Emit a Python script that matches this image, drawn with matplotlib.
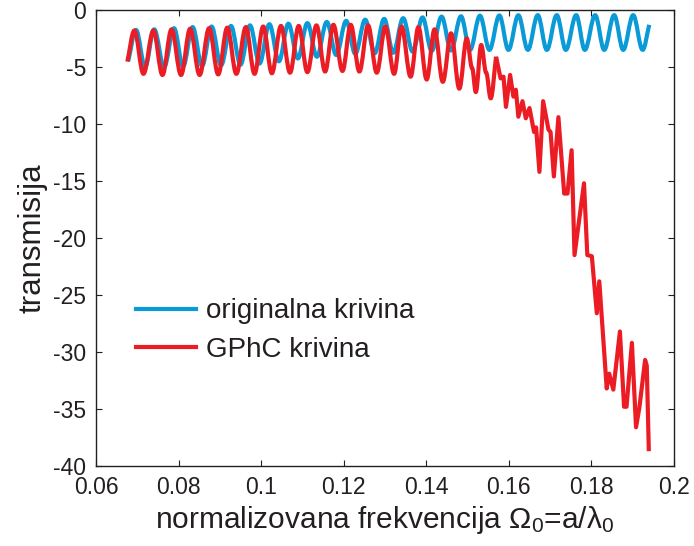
import matplotlib
matplotlib.use("Agg")
import matplotlib.pyplot as plt
from matplotlib.path import Path
from matplotlib.patches import PathPatch
from matplotlib.lines import Line2D

# ---------------- data ----------------
x_ticks = [0.06, 0.08, 0.10, 0.12, 0.14, 0.16, 0.18, 0.20]
x_tick_labels = ["0.06", "0.08", "0.1", "0.12", "0.14", "0.16", "0.18", "0.2"]
y_ticks = [0, -5, -10, -15, -20, -25, -30, -35, -40]
y_tick_labels = ["0", "-5", "-10", "-15", "-20", "-25", "-30", "-35", "-40"]

series_labels = ["originalna krivina", "GPhC krivina"]

# original curve: start, alternating peaks / troughs, end
blue_x = [0.0678, 0.0697, 0.0719, 0.0741, 0.0765, 0.0789, 0.0811, 0.0834, 0.0857,
          0.0880, 0.0903, 0.0927, 0.0950, 0.0973, 0.0996, 0.1020, 0.1043, 0.1066,
          0.1089, 0.1112, 0.1135, 0.1159, 0.1182, 0.1206, 0.1228, 0.1252, 0.1275,
          0.1298, 0.1320, 0.1344, 0.1367, 0.1391, 0.1413, 0.1437, 0.1460, 0.1484,
          0.1506, 0.1530, 0.1553, 0.1577, 0.1599, 0.1623, 0.1646, 0.1670, 0.1692,
          0.1716, 0.1738, 0.1763, 0.1784, 0.1809, 0.1831, 0.1855, 0.1877, 0.1901,
          0.1924, 0.1940]
blue_y = [-4.5, -1.75, -5.0, -1.7, -5.0, -1.6, -4.95, -1.5, -4.9,
          -1.45, -4.85, -1.4, -4.8, -1.35, -4.7, -1.25, -4.5, -1.2,
          -4.25, -1.15, -4.1, -1.05, -3.95, -0.95, -3.85, -0.85, -3.8,
          -0.78, -3.75, -0.72, -3.65, -0.65, -3.6, -0.58, -3.55, -0.55,
          -3.5, -0.5, -3.5, -0.48, -3.5, -0.46, -3.5, -0.45, -3.5,
          -0.45, -3.5, -0.45, -3.5, -0.45, -3.5, -0.45, -3.5, -0.45,
          -3.5, -1.3]

# GPhC curve
red_x = [0.0676, 0.0693, 0.0715, 0.0739, 0.0761, 0.0783, 0.0806, 0.0828, 0.0851,
         0.0874, 0.0896, 0.0918, 0.0940, 0.0963, 0.0984, 0.1005, 0.1026, 0.1048,
         0.1070, 0.1091, 0.1112, 0.1134, 0.1155, 0.1175, 0.1197, 0.1217, 0.1238,
         0.1259, 0.1280, 0.1301, 0.1322, 0.1340, 0.1362, 0.1381, 0.1401, 0.1420,
         0.1440, 0.1460, 0.1480, 0.1498, 0.1511, 0.1520, 0.1533, 0.1545, 0.1556,
         0.1569,
         0.1580, 0.1587, 0.1593, 0.1603, 0.1611, 0.1617, 0.1623, 0.1633, 0.1641,
         0.1650, 0.1661, 0.1666, 0.1674, 0.1683, 0.1696, 0.1701, 0.1709, 0.1720,
         0.1730, 0.1734, 0.1742, 0.1752, 0.1759, 0.1782, 0.1790, 0.1801, 0.1813,
         0.1819, 0.1837, 0.1843, 0.1853, 0.1869, 0.1879, 0.1885, 0.1898, 0.1908,
         0.1916, 0.1930, 0.1934, 0.1939]
red_y = [-4.53, -1.8, -5.6, -1.8, -5.7, -1.7, -5.7, -1.65, -5.7,
         -1.6, -5.65, -1.55, -5.6, -1.5, -5.6, -1.45, -5.55, -1.4,
         -5.5, -1.4, -5.45, -1.35, -5.4, -1.3, -5.35, -1.3, -5.4,
         -1.35, -5.5, -1.45, -5.6, -1.46, -5.85, -1.5, -6.1, -1.7,
         -6.3, -2.05, -6.9, -2.5, -5.1, -7.2, -3.07, -5.5, -7.75,
         -4.1,
         -6.0, -5.85, -8.5, -5.7, -7.6, -7.0, -9.36, -8.0, -9.5,
         -8.6, -10.7, -10.3, -14.2, -8.0, -10.5, -10.7, -14.6, -9.4,
         -14.2, -16.1, -16.1, -12.3, -21.5, -15.2, -21.5, -21.6, -26.6,
         -23.8, -33.2, -31.9, -33.3, -28.2, -34.8, -34.8, -29.2, -36.6,
         -34.9, -30.7, -31.2, -38.7]

# ---------------- style ----------------
BLUE = "#0a9ad7"
RED = "#ec1c24"
INK = "#231f20"
LW = 3.0

plt.rcParams["font.family"] = ["Liberation Sans", "DejaVu Sans"]
plt.rcParams["axes.unicode_minus"] = False
plt.rcParams["mathtext.fontset"] = "custom"
plt.rcParams["mathtext.rm"] = "Liberation Sans"
plt.rcParams["mathtext.it"] = "Liberation Sans"
plt.rcParams["mathtext.default"] = "regular"


def smooth_path(xs, ys, k=0.36):
    """Smooth line through extrema (horizontal tangents at inner points)."""
    verts = [(xs[0], ys[0])]
    codes = [Path.MOVETO]
    n = len(xs)
    for i in range(n - 1):
        x0, y0, x1, y1 = xs[i], ys[i], xs[i + 1], ys[i + 1]
        dx = x1 - x0
        c1 = (x0 + dx / 3, y0 + (y1 - y0) / 3) if i == 0 else (x0 + k * dx, y0)
        c2 = (x1 - dx / 3, y1 - (y1 - y0) / 3) if i == n - 2 else (x1 - k * dx, y1)
        verts += [c1, c2, (x1, y1)]
        codes += [Path.CURVE4] * 3
    return Path(verts, codes)


fig = plt.figure(figsize=(6.94, 5.46), dpi=100)
ax = fig.add_axes([0.1383, 0.1465, 0.8329, 0.8352])

ax.add_patch(PathPatch(smooth_path(blue_x, blue_y), fill=False, edgecolor=BLUE,
                       lw=LW, joinstyle="round", capstyle="butt", zorder=2))

n_smooth = sum(1 for v in red_x if v <= 0.157)
ax.add_patch(PathPatch(smooth_path(red_x[:n_smooth], red_y[:n_smooth]), fill=False,
                       edgecolor=RED, lw=LW, joinstyle="round", capstyle="butt",
                       zorder=3))
ax.plot(red_x[n_smooth - 1:], red_y[n_smooth - 1:], color=RED, lw=LW,
        solid_joinstyle="round", solid_capstyle="butt", zorder=3)

ax.set_xlim(0.06, 0.2)
ax.set_ylim(-40, 0)
ax.set_xticks(x_ticks)
ax.set_xticklabels(x_tick_labels)
ax.set_yticks(y_ticks)
ax.set_yticklabels(y_tick_labels)

ax.tick_params(direction="in", length=4, width=0.8, top=True, right=True,
               labelsize=16.5, colors=INK, pad=7)
for s in ax.spines.values():
    s.set_color(INK)
    s.set_linewidth(1.0)

ax.set_xlabel(r"normalizovana frekvencija $\Omega_0$=a/$\lambda_0$",
              fontsize=21.5, color=INK, labelpad=4)
ax.set_ylabel("transmisija", fontsize=22.5, color=INK, labelpad=4)

handles = [Line2D([], [], color=BLUE, lw=LW), Line2D([], [], color=RED, lw=LW)]
ax.legend(handles, series_labels, loc="center left", bbox_to_anchor=(0.069, 0.297),
          frameon=False, fontsize=20, handlelength=2.16, handletextpad=0.38,
          labelspacing=0.45, borderpad=0, borderaxespad=0, labelcolor=INK)

fig.savefig("out.png", dpi=100)
